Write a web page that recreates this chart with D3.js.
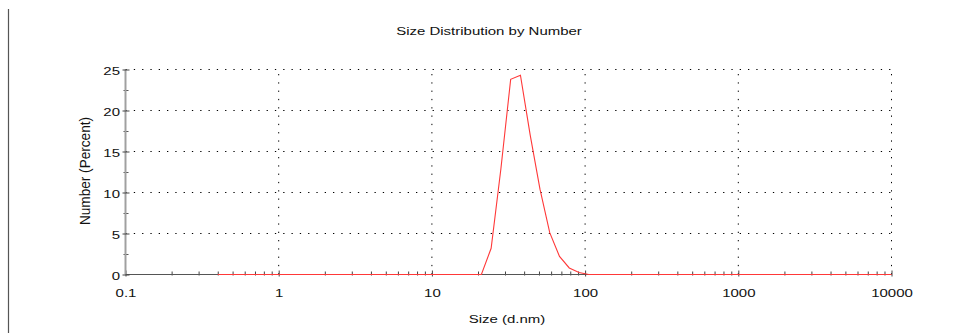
<!DOCTYPE html>
<html>
<head>
<meta charset="utf-8">
<script src="https://cdn.jsdelivr.net/npm/d3@7/dist/d3.min.js"></script>
<style>
  html, body { margin: 0; padding: 0; background: #fff; }
  svg { display: block; }
  text { font-family: "Liberation Sans", Arial, sans-serif; fill: #111; }
</style>
</head>
<body>
<svg id="chart" width="958" height="333"></svg>
<script>
// Size classes (d.nm) of the number distribution
const sizes = [
  0.4, 0.4632, 0.5365, 0.6213, 0.7195, 0.8332, 0.9649, 1.117, 1.294, 1.499,
  1.736, 2.010, 2.328, 2.696, 3.122, 3.615, 4.187, 4.849, 5.615, 6.503,
  7.531, 8.721, 10.10, 11.70, 13.54, 15.69, 18.17, 21.04, 24.36, 28.21,
  32.67, 37.84, 43.82, 50.75, 58.77, 68.06, 78.82, 91.28, 105.7, 122.4,
  141.8, 164.2, 190.1, 220.2, 255.0, 295.3, 342.0, 396.1, 458.7, 531.2,
  615.1, 712.4, 825.0, 955.4, 1106, 1281, 1484, 1718, 1990, 2305,
  2669, 3091, 3580, 4145, 4801, 5560, 6439, 7456, 8635, 10000
];
// Number (%) in each size class
const numberPct = [
  0, 0, 0, 0, 0, 0, 0, 0, 0, 0,
  0, 0, 0, 0, 0, 0, 0, 0, 0, 0,
  0, 0, 0, 0, 0, 0, 0, 0, 3.2, 12.9,
  23.8, 24.3, 17.0, 10.4, 5.1, 2.2, 0.8, 0.25, 0, 0,
  0, 0, 0, 0, 0, 0, 0, 0, 0, 0,
  0, 0, 0, 0, 0, 0, 0, 0, 0, 0,
  0, 0, 0, 0, 0, 0, 0, 0, 0, 0
];
const xTickValues = [0.1, 1, 10, 100, 1000, 10000];
const xTickLabels = ["0.1", "1", "10", "100", "1000", "10000"];
const yTickValues = [0, 5, 10, 15, 20, 25];
const yMinorValues = [2.5, 7.5, 12.5, 17.5, 22.5];
const titleText = "Size Distribution by Number";
const xTitle = "Size (d.nm)";
const yTitle = "Number (Percent)";

const svg = d3.select("#chart");
const plotL = 125.5, plotR = 891.5, plotT = 69.5, plotB = 274.5;
const squash = 0.78;   // vertical compression of the horizontal lettering

const x = d3.scaleLog().domain([0.1, 10000]).range([plotL, plotR]);
const y = d3.scaleLinear().domain([0, 25]).range([plotB, plotT]);

// frame rule on the far left
svg.append("line")
  .attr("x1", 8.5).attr("x2", 8.5).attr("y1", 9).attr("y2", 333)
  .attr("stroke", "#555").attr("stroke-width", 1.2);

// dotted grid
const grid = svg.append("g").attr("stroke", "#000").attr("stroke-width", 1)
  .attr("stroke-dasharray", "1.3,7");
grid.selectAll("line.h").data(yTickValues.filter(v => v > 0)).join("line")
  .attr("class", "h")
  .attr("x1", plotL).attr("x2", plotR)
  .attr("y1", d => y(d)).attr("y2", d => y(d));
grid.selectAll("line.v").data(xTickValues.filter(v => v > 0.1)).join("line")
  .attr("class", "v")
  .attr("x1", d => x(d)).attr("x2", d => x(d))
  .attr("y1", plotB).attr("y2", plotT);

// x axis: minor ticks
const minorX = [];
for (let e = -1; e < 4; e++) for (let m = 2; m <= 9; m++) minorX.push(m * Math.pow(10, e));
const xMinor = svg.append("g").attr("transform", `translate(0,${plotB})`)
  .call(d3.axisBottom(x).tickValues(minorX).tickSize(1).tickFormat(""));
xMinor.select(".domain").remove();
xMinor.selectAll(".tick line").attr("y1", -3).attr("stroke", "#444");

// x axis: decades
const xAxis = svg.append("g").attr("transform", `translate(0,${plotB})`)
  .call(d3.axisBottom(x).tickValues(xTickValues).tickSize(2)
    .tickFormat((d, i) => xTickLabels[i]));
xAxis.select(".domain").attr("stroke", "#555").attr("d", `M${plotL},0H${plotR}`);
xAxis.selectAll(".tick line").attr("y1", -4).attr("stroke", "#444");
xAxis.selectAll(".tick text")
  .attr("y", 0).attr("dy", null)
  .attr("font-size", 15)
  .attr("transform", `translate(0,22.5) scale(1,${squash})`);

// y axis: minor ticks
const yMinor = svg.append("g").attr("transform", `translate(${plotL},0)`)
  .call(d3.axisLeft(y).tickValues(yMinorValues).tickSize(2).tickFormat(""));
yMinor.select(".domain").remove();
yMinor.selectAll(".tick line").attr("x1", 3).attr("stroke", "#555");

// y axis: labelled ticks
const yAxis = svg.append("g").attr("transform", `translate(${plotL},0)`)
  .call(d3.axisLeft(y).tickValues(yTickValues).tickSize(3));
yAxis.select(".domain").attr("stroke", "#a0a0a0").attr("stroke-width", 2)
  .attr("d", `M0,${plotB}V${plotT}`);
yAxis.selectAll(".tick line").attr("x1", 4).attr("stroke", "#444");
yAxis.selectAll(".tick text")
  .attr("x", 0).attr("dy", null).attr("y", 0)
  .attr("font-size", 15)
  .attr("text-anchor", "end")
  .attr("transform", `translate(-5.5,4.5) scale(1,${squash})`);

// distribution curve
const line = d3.line()
  .x((d, i) => x(sizes[i]))
  .y(d => y(d));
svg.append("path")
  .datum(numberPct)
  .attr("fill", "none")
  .attr("stroke", "#ff3838")
  .attr("stroke-width", 1.1)
  .attr("d", line);

// titles
svg.append("text")
  .attr("text-anchor", "middle").attr("font-size", 15)
  .attr("transform", `translate(489,34.5) scale(1,${squash})`)
  .text(titleText);
svg.append("text")
  .attr("text-anchor", "middle").attr("font-size", 15)
  .attr("transform", `translate(507,322.5) scale(1,${squash})`)
  .text(xTitle);
svg.append("text")
  .attr("text-anchor", "middle").attr("font-size", 13.6)
  .attr("transform", `translate(89.5,171) rotate(-90) scale(1,1.05)`)
  .text(yTitle);
</script>
</body>
</html>
